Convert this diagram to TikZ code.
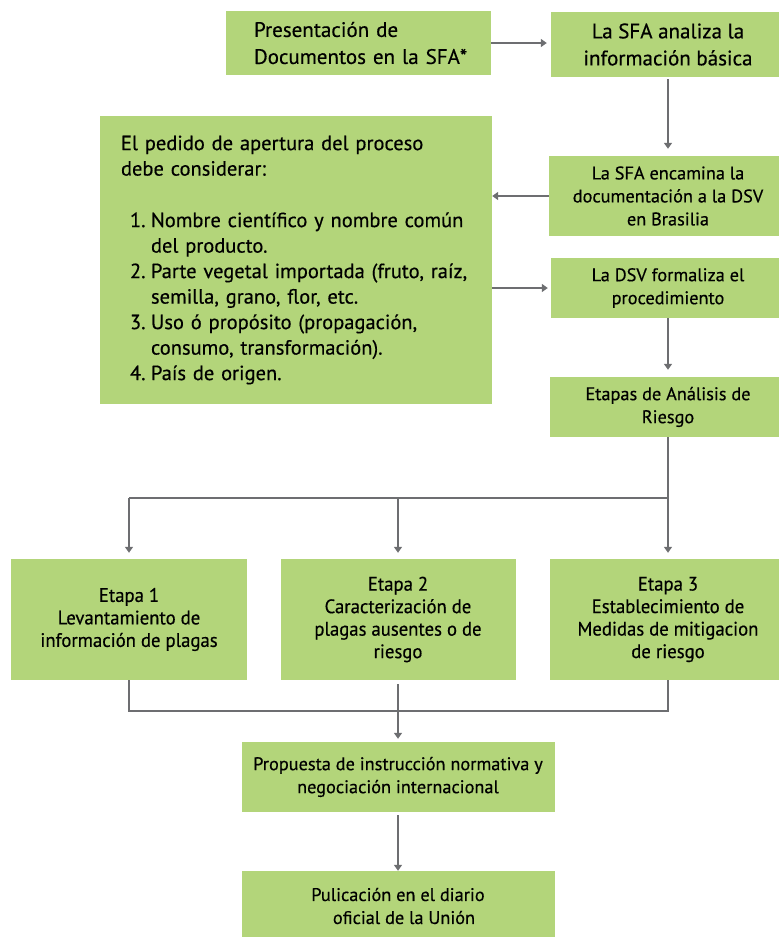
\documentclass[tikz,border=0pt]{standalone}
\usepackage{fontspec}
\setmainfont[FakeBold=0.4]{PT Sans}
\newfontfamily\narrowfont[FakeStretch=0.96,FakeBold=0.4]{PT Sans}
\usetikzlibrary{arrows.meta}
\definecolor{boxgreen}{HTML}{B3D57A}
\definecolor{linegray}{HTML}{6D6E71}
\tikzset{
  box/.style={fill=boxgreen, draw=none, inner sep=0pt, align=center},
  link/.style={draw=linegray, line width=2pt},
  arr/.style={link, -{Triangle[width=8pt,length=6pt]}},
  bigtext/.style={font=\fontsize{21}{27}\selectfont},
  midtext/.style={font=\fontsize{18.3}{23}\selectfont},
  listtext/.style={font=\fontsize{20.5}{25.5}\selectfont},
  stagetext/.style={font=\narrowfont\fontsize{19.5}{22.5}\selectfont},
}
\newcommand{\itemno}[1]{\makebox[30pt][l]{\hspace*{9pt}#1}}
\begin{document}
\begin{tikzpicture}[x=1pt,y=-1pt]
\useasboundingbox (0,0) rectangle (779,937);

% top row
\node[box, bigtext, minimum width=265, minimum height=64, text width=265, align=left]
  (pres) at (358.5,43) {\hspace*{28pt}Presentación de\\\hspace*{28pt}Documentos en la SFA*};
\node[box, bigtext, minimum width=234, minimum height=65]
  (anal) at (668,44.5) {La SFA analiza la\\información básica};

% right column
\node[box, midtext, minimum width=238, minimum height=80]
  (enc) at (668,196) {La SFA encamina la\\documentación a la DSV\\en Brasilia};
\node[box, midtext, minimum width=234, minimum height=60]
  (form) at (668,288) {La DSV formaliza el\\procedimiento};
\node[box, midtext, minimum width=236, minimum height=60]
  (etapas) at (668,407) {Etapas de Análisis de\\Riesgo};

% requirements box
\node[box, listtext, minimum width=392, minimum height=288, text width=350, align=left]
  (req) at (296,260) {El pedido de apertura del proceso\\debe considerar:\\[26pt]
  \itemno{1.}Nombre científico y nombre común\\
  \hspace*{30pt}del producto.\\
  \itemno{2.}Parte vegetal importada (fruto, raíz,\\
  \hspace*{30pt}semilla, grano, flor, etc.\\
  \itemno{3.}Uso ó propósito (propagación,\\
  \hspace*{30pt}consumo, transformación).\\
  \itemno{4.}País de origen.};

% the three stages
\node[box, stagetext, minimum width=236, minimum height=121]
  (e1) at (129,619.5) {Etapa 1\\Levantamiento de\\información de plagas};
\node[box, stagetext, minimum width=235, minimum height=121]
  (e2) at (398,619.5) {Etapa 2\\Caracterización de\\plagas ausentes o de\\riesgo};
\node[box, stagetext, minimum width=236, minimum height=121]
  (e3) at (668,619.5) {Etapa 3\\Establecimiento de\\Medidas de mitigacion\\de riesgo};

% bottom boxes
\node[box, midtext, minimum width=313, minimum height=70]
  (prop) at (398,777) {Propuesta de instrucción normativa y\\negociación internacional};
\node[box, midtext, minimum width=313, minimum height=70]
  (pub) at (398,906) {Pulicación en el diario\\\hspace*{12pt}oficial de la Unión};

\coordinate (split) at (668,498);
\coordinate (merge) at (398,711);

% connectors
\draw[arr, shorten >=4pt] (pres.east) -- (pres.east -| anal.west);
\draw[arr, shorten <=2pt, shorten >=7pt] (anal.south) -- (enc.north);
\draw[arr] (enc.west) -- (enc.west -| req.east);
\draw[arr, shorten >=3pt] (req.east |- form.west) -- (form.west);
\draw[arr, shorten >=7pt] (form.south) -- (etapas.north);
\draw[link] (etapas.south) -- (split) -- (split -| e1.north);
\draw[arr, shorten >=6pt] (split -| e1.north) -- (e1.north);
\draw[arr, shorten >=6pt] (split -| e2.north) -- (e2.north);
\draw[arr, shorten >=6pt] (split) -- (e3.north);
\draw[link] (e1.south) -- (merge -| e1.south) -- (merge -| e3.south) -- (e3.south);
\draw[arr, shorten <=4pt, shorten >=3pt] (e2.south) -- (prop.north);
\draw[arr, shorten <=3pt] (prop.south) -- (pub.north);
\end{tikzpicture}
\end{document}
